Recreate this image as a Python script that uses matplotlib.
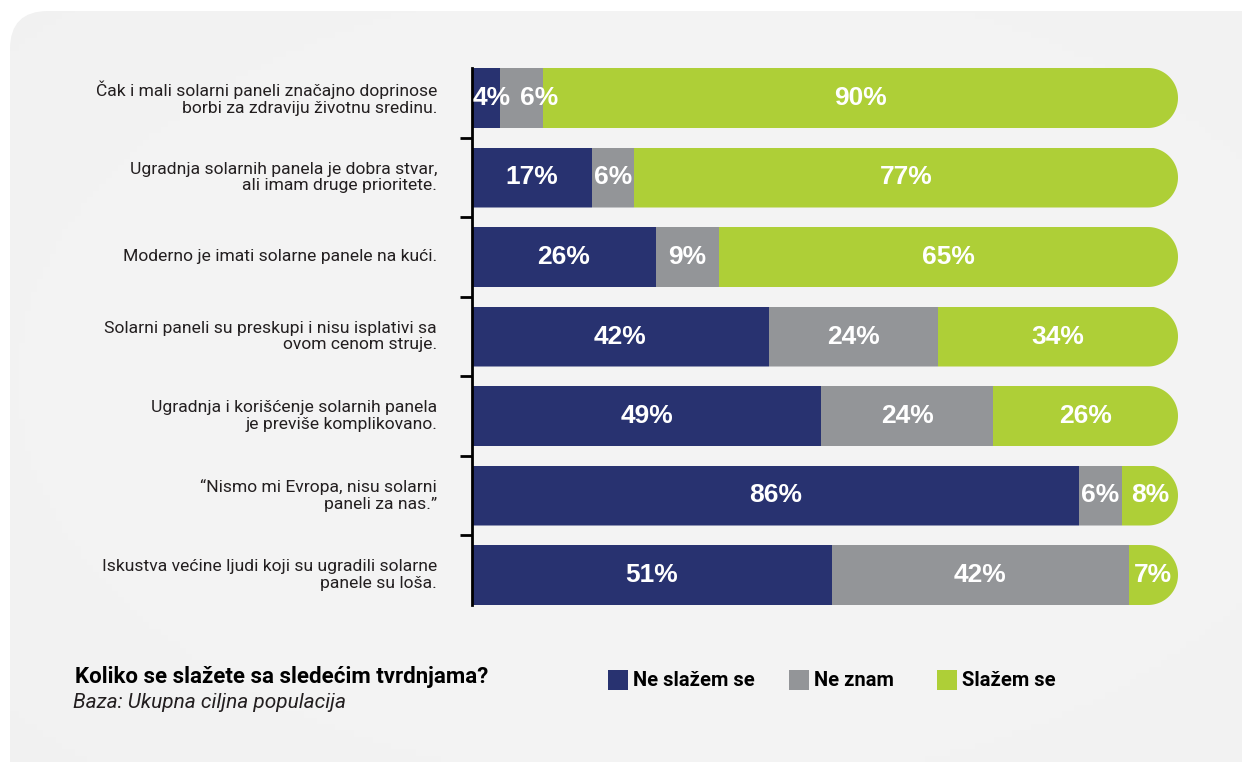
import matplotlib
matplotlib.use("Agg")
import matplotlib.pyplot as plt
import numpy as np
from matplotlib.patches import FancyBboxPatch, PathPatch, Rectangle
from matplotlib.path import Path

# data
izjave = [
    "Čak i mali solarni paneli značajno doprinose\nborbi za zdraviju životnu sredinu.",
    "Ugradnja solarnih panela je dobra stvar,\nali imam druge prioritete.",
    "Moderno je imati solarne panele na kući.",
    "Solarni paneli su preskupi i nisu isplativi sa\novom cenom struje.",
    "Ugradnja i korišćenje solarnih panela\nje previše komplikovano.",
    "“Nismo mi Evropa, nisu solarni\npaneli za nas.”",
    "Iskustva većine ljudi koji su ugradili solarne\npanele su loša.",
]
ne_slazem = [4, 17, 26, 42, 49, 86, 51]
ne_znam = [6, 6, 9, 24, 24, 6, 42]
slazem = [90, 77, 65, 34, 26, 8, 7]
serije = ["Ne slažem se", "Ne znam", "Slažem se"]
boje = ["#283270", "#939598", "#aecf37"]

W, H = 1242, 762
fig = plt.figure(figsize=(W / 100, H / 100), dpi=100)
fig.patch.set_facecolor("white")

# pozadina - zaobljeni pravougaonik
bg = fig.add_axes([0, 0, 1, 1], zorder=-5)
bg.set_xlim(0, W)
bg.set_ylim(0, H)
bg.axis("off")
gx = np.linspace(0, 1, 200)
gy = np.linspace(0, 1, 120)
GX, GY = np.meshgrid(gx, gy)
grad = 0.955 - 0.02 * ((GX - 0.55) ** 2 + (GY - 0.5) ** 2)
im = bg.imshow(grad, extent=[0, W, 0, H], cmap="gray", vmin=0, vmax=1, aspect="auto", origin="lower")
okvir = FancyBboxPatch((10, -40), W + 40, H - 11 + 40, boxstyle="round,pad=0,rounding_size=38",
                       facecolor="none", edgecolor="none")
bg.add_patch(okvir)
im.set_clip_path(okvir)

# glavni grafik
x0, x1 = 472, 1178
korak = 79.5
visina = 60
prvi = 98
top = prvi - korak / 2
bot = prvi + 6 * korak + korak / 2
ax = fig.add_axes([x0 / W, 1 - bot / H, (x1 - x0) / W, (bot - top) / H])
ax.set_xlim(0, 100)
ax.set_ylim(6.5, -0.5)
ax.patch.set_alpha(0)

n = len(izjave)
y = np.arange(n)
vrednosti = np.array([ne_slazem, ne_znam, slazem], dtype=float)
udeli = vrednosti / vrednosti.sum(axis=0) * 100
bh = visina / korak
h = bh / 2
rx = (visina / 2) / ((x1 - x0) / 100)

levo = np.zeros(n)
redovi = [[] for _ in range(n)]
natpisi = [[] for _ in range(n)]
for k in range(3):
    bars = ax.barh(y, udeli[k], left=levo, height=bh, color=boje[k], edgecolor="none", zorder=2)
    for i, b in enumerate(bars):
        redovi[i].append(b)
        t = ax.text(levo[i] + udeli[k][i] / 2, i, f"{int(vrednosti[k][i])}%", ha="center", va="center",
                    color="white", fontsize=19, fontweight="bold", family="Liberation Sans", zorder=5)
        natpisi[i].append(t)
    levo = levo + udeli[k]

# zaobljeni desni kraj
ugao = np.linspace(-np.pi / 2, np.pi / 2, 60)
for i in range(n):
    pts = [(0, i - h), (100 - rx, i - h)]
    pts += [(100 - rx + rx * np.cos(a), i + h * np.sin(a)) for a in ugao]
    pts += [(0, i + h), (0, i - h)]
    kod = [Path.MOVETO] + [Path.LINETO] * (len(pts) - 2) + [Path.CLOSEPOLY]
    clip = PathPatch(Path(pts, kod), transform=ax.transData)
    for b in redovi[i]:
        b.set_clip_path(clip)

for s in ["top", "right", "bottom"]:
    ax.spines[s].set_visible(False)
ax.spines["left"].set_linewidth(2)
ax.spines["left"].set_bounds(-h, n - 1 + h)
ax.spines["left"].set_zorder(4)
ax.set_xticks([])
ax.set_yticks(np.arange(n - 1) + 0.5)
ax.set_yticklabels([])
ax.tick_params(axis="y", length=9, width=2, direction="out")

for i, tekst in enumerate(izjave):
    ax.text(-35 / (x1 - x0), i, tekst, transform=ax.get_yaxis_transform(), ha="right", va="center",
            multialignment="right", fontsize=12.6, family="Roboto", color="#231f20", linespacing=1.15)

# uski segmenti: natpis se pomera udesno da se ne preklapa
fig.canvas.draw()
r = fig.canvas.get_renderer()
px = (x1 - x0) / 100
for i in range(n):
    desno = x0 + 1
    for t in natpisi[i]:
        sirina = t.get_window_extent(r).width
        cx = x0 + t.get_position()[0] * px
        if cx - sirina / 2 < desno:
            cx = desno + sirina / 2
            t.set_x((cx - x0) / px)
        desno = cx + sirina / 2 + 9

# naslov i legenda
fig.text(75 / W, 1 - 677 / H, "Koliko se slažete sa sledećim tvrdnjama?", fontsize=16,
         fontweight="bold", family="Roboto", color="black", va="center")
fig.text(73 / W, 1 - 702 / H, "Baza: Ukupna ciljna populacija", fontsize=15, style="italic",
         family="Roboto", color="#231f20", va="center")

leg_x = [608, 789, 937]
for lx, naziv, c in zip(leg_x, serije, boje):
    fig.add_artist(Rectangle((lx / W, 1 - 690 / H), 20 / W, 20 / H, transform=fig.transFigure,
                             facecolor=c, edgecolor="none"))
    fig.text((lx + 25) / W, 1 - 680 / H, naziv, fontsize=14.5, fontweight="bold", family="Roboto",
             color="black", va="center")

fig.savefig("out.png", dpi=100)
